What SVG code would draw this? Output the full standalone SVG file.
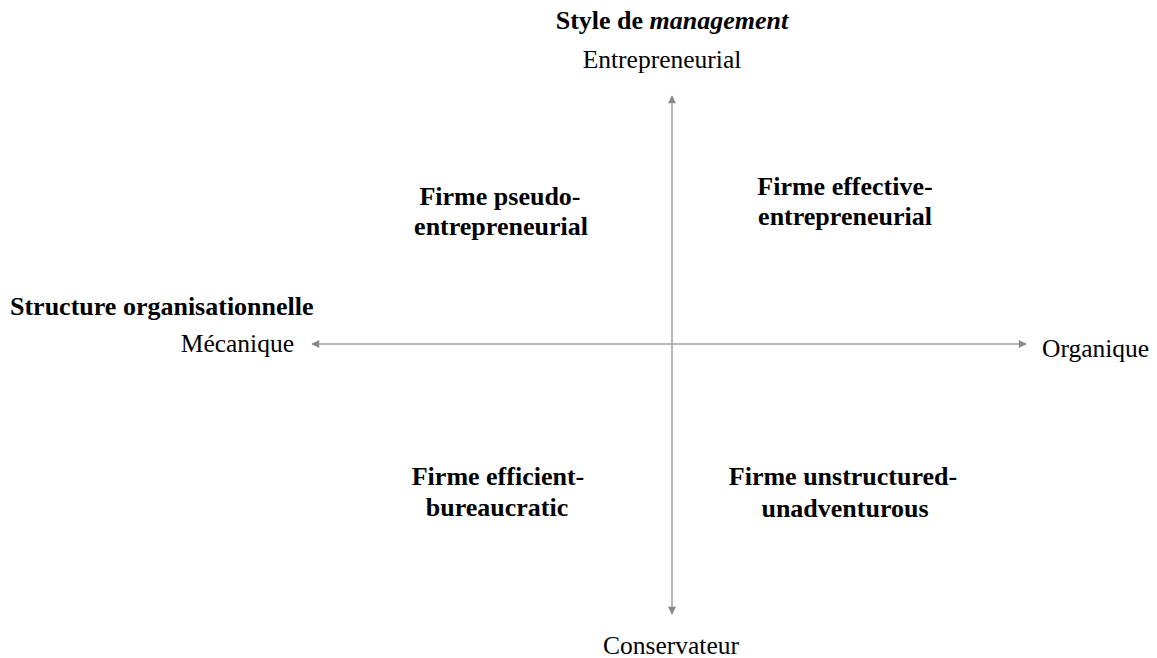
<svg xmlns="http://www.w3.org/2000/svg" width="1157" height="658" viewBox="0 0 1157 658">
<style>
text{font-family:"Liberation Serif","Times New Roman",serif;font-size:25.5px;fill:#000}
.b{font-weight:bold;font-size:26px}
.c{text-anchor:middle}
.ax{stroke:#a0a0a0;stroke-width:1.5;fill:none}
</style>
<defs>
<marker id="ah" viewBox="0 0 10 10" refX="9" refY="5" markerWidth="9" markerHeight="8" markerUnits="userSpaceOnUse" orient="auto-start-reverse">
<path d="M0,0 L10,5 L0,10 z" fill="#8a8a8a"/>
</marker>
</defs>
<rect width="1157" height="658" fill="#fff"/>
<g id="connectors">
<line class="ax" x1="672" y1="96" x2="672" y2="614" marker-start="url(#ah)" marker-end="url(#ah)"/>
<line class="ax" x1="312" y1="344" x2="1026" y2="344" marker-start="url(#ah)" marker-end="url(#ah)"/>
</g>
<g id="axis-top">
<text class="b c" x="672" y="29">Style de <tspan font-style="italic">management</tspan></text>
<text class="c" x="662" y="68">Entrepreneurial</text>
</g>
<g id="axis-left">
<text class="b" x="10" y="315">Structure organisationnelle</text>
<text x="294" y="352" text-anchor="end">Mécanique</text>
</g>
<g id="axis-right">
<text x="1042" y="357">Organique</text>
</g>
<g id="axis-bottom">
<text class="c" x="671" y="654">Conservateur</text>
</g>
<g id="q1">
<text class="b c" x="500" y="205">Firme pseudo-</text>
<text class="b c" x="501" y="235">entrepreneurial</text>
</g>
<g id="q2">
<text class="b c" x="845" y="195">Firme effective-</text>
<text class="b c" x="845" y="225">entrepreneurial</text>
</g>
<g id="q3">
<text class="b c" x="498" y="485">Firme efficient-</text>
<text class="b c" x="497" y="516">bureaucratic</text>
</g>
<g id="q4">
<text class="b c" x="843" y="485">Firme unstructured-</text>
<text class="b c" x="845" y="517">unadventurous</text>
</g>
</svg>
